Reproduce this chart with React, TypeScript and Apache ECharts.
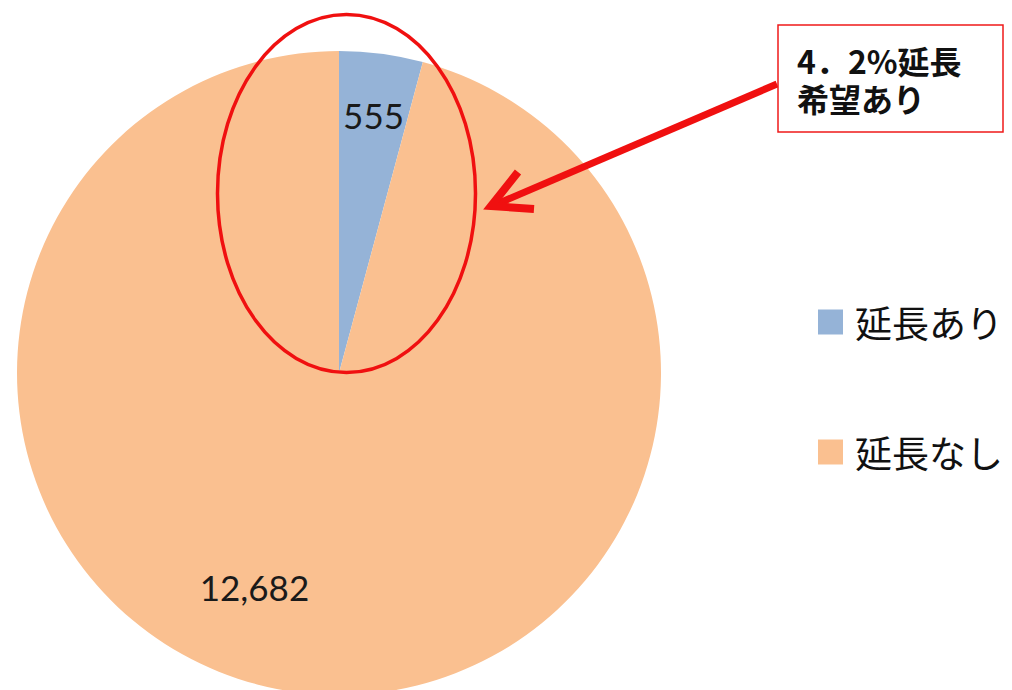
import React, { useEffect, useRef } from "react";
import * as echarts from "echarts";

const categories = ["延長あり", "延長なし"];
const values = [555, 12682];
const colors = ["#95B3D7", "#FAC090"];
const calloutLines = ["4．2%延長", "希望あり"];

export default function App() {
  const ref = useRef<HTMLDivElement>(null);
  useEffect(() => {
    document.body.style.margin = "0";
    const chart = echarts.init(ref.current!, null, { renderer: "svg" });
    const labelOffsets = [
      { dx: 13, dy: -95 },
      { dx: -63, dy: 51 },
    ];
    chart.setOption({
      animation: false,
      backgroundColor: "#ffffff",
      legend: {
        orient: "vertical",
        left: 818,
        top: 300,
        itemWidth: 25,
        itemHeight: 25,
        itemGap: 86,
        padding: 0,
        icon: "rect",
        data: categories,
        textStyle: {
          fontSize: 37,
          lineHeight: 44,
          color: "#111",
          fontFamily: "Noto Sans CJK JP",
          padding: [0, 0, 0, 7],
        },
      },
      series: [
        {
          type: "pie",
          center: [339, 373],
          radius: 322,
          startAngle: 90,
          clockwise: true,
          data: categories.map((c, i) => ({
            name: c,
            value: values[i],
            itemStyle: { color: colors[i] },
          })),
          itemStyle: { borderWidth: 0 },
          label: {
            show: true,
            position: "inside",
            fontSize: 35,
            fontFamily: "Lato",
            color: "#1a1a1a",
            formatter: (p: any) => Number(p.value).toLocaleString("en-US"),
          },
          labelLine: { show: false },
          labelLayout: (params: any) => labelOffsets[params.dataIndex] || {},
          emphasis: { disabled: true },
        },
      ],
      graphic: [
        {
          type: "ellipse",
          shape: { cx: 346.5, cy: 193.5, rx: 129, ry: 179 },
          style: { fill: "none", stroke: "#f01010", lineWidth: 3.5 },
          z: 100,
        },
        {
          type: "line",
          shape: { x1: 777, y1: 84, x2: 497, y2: 204 },
          style: { stroke: "#f01010", lineWidth: 7 },
          z: 100,
        },
        {
          type: "polyline",
          shape: { points: [[518, 172], [491, 206], [534, 209]] },
          style: { stroke: "#f01010", lineWidth: 8, fill: "none", lineJoin: "miter" },
          z: 100,
        },
        {
          type: "rect",
          shape: { x: 778, y: 25, width: 225, height: 107 },
          style: { fill: "#ffffff", stroke: "#f01a1a", lineWidth: 1.5 },
          z: 100,
        },
        {
          type: "text",
          x: 797,
          y: 42,
          style: {
            text: calloutLines[0],
            fontSize: 32,
            lineHeight: 36,
            fontWeight: "bold",
            fontFamily: "Noto Sans CJK JP",
            fill: "#111",
          },
          z: 101,
        },
        {
          type: "text",
          x: 797,
          y: 80,
          style: {
            text: calloutLines[1],
            fontSize: 32,
            lineHeight: 36,
            fontWeight: "bold",
            fontFamily: "Noto Sans CJK JP",
            fill: "#111",
          },
          z: 101,
        },
      ],
    });
    return () => chart.dispose();
  }, []);
  return <div ref={ref} style={{ width: 1012, height: 690 }} />;
}
